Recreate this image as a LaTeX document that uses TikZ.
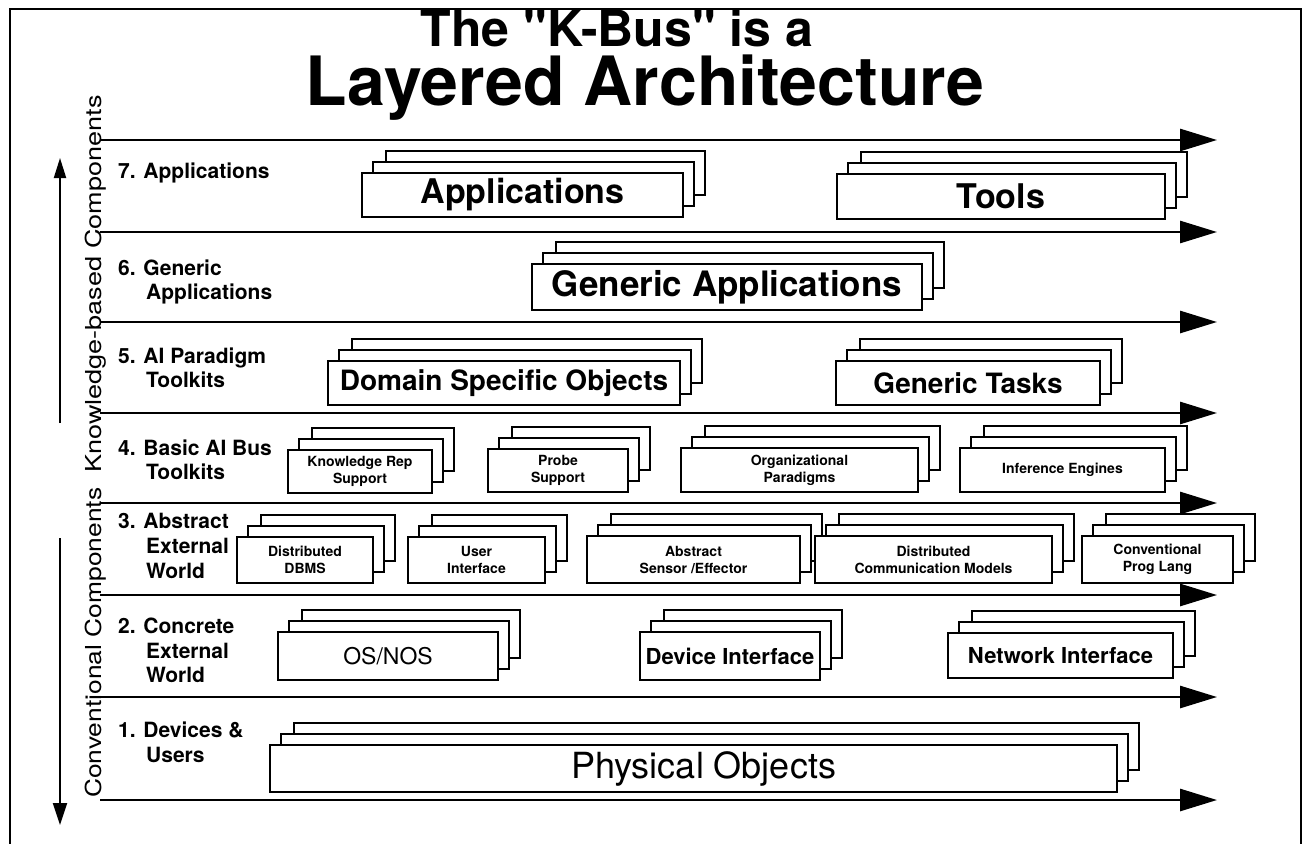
\documentclass[tikz,border=0pt]{standalone}
\usepackage{fontspec}
\setmainfont{TeX Gyre Heros}
% a family without TeX ligatures, so that " prints as a straight quote
\newfontfamily\plainheros{TeX Gyre Heros}
\usepackage{graphicx}
\usetikzlibrary{arrows.meta}

\tikzset{
  card/.style={draw, line width=2.3pt, fill=white},
  cardnode/.style={card, inner sep=0pt, outer sep=0pt, align=center},
  bus/.style={line width=2.8pt, -{Triangle[length=37pt,width=22pt]}},
  side/.style={line width=2pt},
  frame/.style={line width=2.4pt},
  lbl/.style={anchor=base west, inner sep=0pt, font=\bfseries\fontsize{21}{24}\selectfont},
  vlbl/.style={rotate=90, anchor=base west, inner sep=0pt, font=\fontsize{22}{22}\selectfont},
}

% three stacked cards; the front one is a named node
% #1 name, #2 left, #3 top, #4 right, #5 bottom, #6 font, #7 text
\newcommand\cardstack[7]{%
  \draw[card] (#2+24,#3-22) rectangle (#4+22,#5-22);
  \draw[card] (#2+11,#3-11) rectangle (#4+11,#5-11);
  \node[cardnode, anchor=north west, minimum width={#4pt-#2pt},
        minimum height={#5pt-#3pt}, font=#6] (#1) at (#2,#3) {#7};
}

\newcommand\fbig{\bfseries\fontsize{34}{40}\selectfont}
\newcommand\fmid{\bfseries\fontsize{28}{32}\selectfont}
\newcommand\fsmall{\bfseries\fontsize{14}{17}\selectfont}
\newcommand\fos{\bfseries\fontsize{22}{26}\selectfont}

\begin{document}
\begin{tikzpicture}[x=1pt, y=-1pt]
\useasboundingbox (0,0) rectangle (1305,843);

% outer frame (its lower edge lies below the page)
\draw[frame] (10,9) rectangle (1301,880);

% title
\node[font=\plainheros\bfseries\fontsize{50}{50}\selectfont, anchor=base, inner sep=0pt, text depth=0pt] (t1) at (617,47) {The "K-Bus" is a};
\node[font=\bfseries\fontsize{68}{68}\selectfont, anchor=base, inner sep=0pt, text height=0.72em] (t2) at (645,105) {Layered Architecture};

% the bus lines between the layers
\foreach \n/\y in {8/140,7/232,6/322,5/413,4/503,3/595,2/697,1/800} {
  \coordinate (bs\n) at (100,\y);
  \coordinate (be\n) at (1217,\y);
  \draw[bus] (bs\n) -- (be\n);
}

% side arrows and captions
\coordinate (kb0) at (60,423);
\coordinate (kb1) at (60,158);
\draw[side, -{Triangle[length=20pt,width=12pt]}] (kb0) -- (kb1);
\coordinate (cc0) at (60,538);
\coordinate (cc1) at (60,825);
\draw[side, -{Triangle[length=22pt,width=14pt]}] (cc0) -- (cc1);
\node[vlbl] (kbtext) at (101,473) {\scalebox{1.23}[1]{Knowledge-based Components}};
\node[vlbl] (cctext) at (101,798) {\scalebox{1.2}[1]{Conventional Components}};

% layer names, one node per line
\node[lbl] (l7a) at (118,178) {7. Applications};
\node[lbl] (l6a) at (118,275) {6. Generic};
\node[lbl] (l6b) at (146,299) {Applications};
\node[lbl] (l5a) at (118,363) {5. AI Paradigm};
\node[lbl] (l5b) at (146,387) {Toolkits};
\node[lbl] (l4a) at (118,455) {4. Basic AI Bus};
\node[lbl] (l4b) at (146,479) {Toolkits};
\node[lbl] (l3a) at (118,528) {3. Abstract};
\node[lbl] (l3b) at (146,553) {External};
\node[lbl] (l3c) at (146,578) {World};
\node[lbl] (l2a) at (118,633) {2. Concrete};
\node[lbl] (l2b) at (146,658) {External};
\node[lbl] (l2c) at (146,682) {World};
\node[lbl] (l1a) at (118,737) {1. Devices \&};
\node[lbl] (l1b) at (146,762) {Users};

% layer 7
\cardstack{apps}{362}{173}{683}{217}{\fbig}{Applications}
\cardstack{tools}{837}{174}{1165}{219}{\fbig}{Tools}
% layer 6
\cardstack{genapps}{532}{264}{922}{310}{\bfseries\fontsize{35}{40}\selectfont}{Generic Applications}
% layer 5
\cardstack{dso}{328}{361}{680}{405}{\fmid}{Domain Specific Objects}
\cardstack{gtasks}{836}{361}{1100}{405}{\fmid}{Generic Tasks}
% layer 4
\cardstack{krs}{288}{450}{432}{493}{\fsmall}{Knowledge Rep\\Support}
\cardstack{probe}{488}{449}{628}{492}{\fsmall}{Probe\\Support}
\cardstack{orgp}{681}{448}{918}{492}{\fsmall}{Organizational\\Paradigms}
\cardstack{infer}{960}{448}{1165}{492}{\fsmall}{Inference Engines}
% layer 3
\cardstack{dbms}{237}{537}{373}{583}{\fsmall}{Distributed\\DBMS}
\cardstack{ui}{408}{537}{545}{583}{\fsmall}{User\\Interface}
\cardstack{ase}{587}{536}{800}{583}{\fsmall}{Abstract\\Sensor /Effector}
\cardstack{dcm}{815}{536}{1052}{583}{\fsmall}{Distributed\\Communication Models}
\cardstack{cpl}{1082}{536}{1233}{583}{\fsmall}{Conventional\\Prog Lang}
% layer 2
\cardstack{os}{278}{632}{498}{680}{\fontsize{23}{26}\selectfont}{OS/NOS}
\cardstack{dev}{640}{632}{820}{680}{\fos}{Device Interface}
\cardstack{net}{948}{633}{1173}{678}{\fos}{Network Interface}
% layer 1
\cardstack{phys}{270}{745}{1117}{792}{\fontsize{36}{40}\selectfont}{\hspace*{20pt}Physical Objects}

\end{tikzpicture}
\end{document}
